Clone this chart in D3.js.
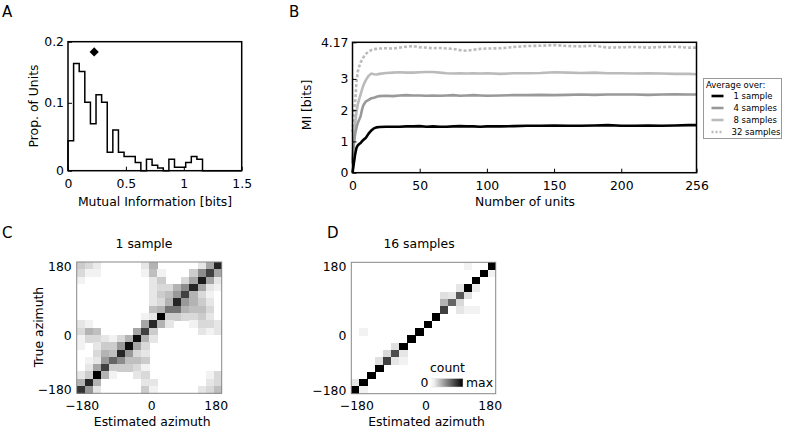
<!DOCTYPE html>
<html><head><meta charset="utf-8">
<script src="https://cdn.jsdelivr.net/npm/d3@7"></script>
<style>
html,body{margin:0;padding:0;background:#fff;}
text{font-family:"DejaVu Sans",sans-serif;fill:#000;}
</style></head>
<body>
<svg id="fig" width="786" height="430"></svg>
<script>
// ---------- Panel A data ----------
const histBinWidth = 0.0484;
const histValues = [0.044,0.158,0.146,0.101,0.069,0.112,0.101,0.027,0.060,0.027,0.021,0.021,0.012,0,0.017,0.008,0.004,0,0.017,0.005,0.005,0.012,0.021,0.017];
const histXTicks = [0,0.5,1,1.5];
const histYTicks = [0,0.1,0.19];
const histYTickLabels = ["0","0.1","0.2"];
const meanMI = [0.226, 0.175];

// ---------- Panel B data ----------
const units = [0,1,2,3,4,5,6,7,8,9,10,12,14,16,18,20,25,30,35,40,45,50,55,60,65,70,75,80,85,90,95,100,110,120,130,140,150,160,170,180,190,200,210,220,230,240,250,256];
const mi1  = [0,0.3,0.6,0.8,0.88,0.92,0.95,1.0,1.05,1.08,1.12,1.25,1.35,1.42,1.45,1.46,1.47,1.47,1.47,1.48,1.48,1.49,1.47,1.48,1.47,1.47,1.48,1.49,1.48,1.48,1.47,1.48,1.48,1.49,1.5,1.5,1.51,1.5,1.5,1.51,1.52,1.5,1.5,1.51,1.5,1.51,1.52,1.52];
const mi4  = [0.3,0.9,1.25,1.45,1.6,1.7,1.8,2.0,2.15,2.22,2.28,2.33,2.38,2.4,2.43,2.45,2.46,2.45,2.47,2.48,2.47,2.47,2.46,2.47,2.46,2.47,2.48,2.46,2.47,2.48,2.47,2.46,2.47,2.48,2.48,2.49,2.48,2.49,2.5,2.49,2.5,2.5,2.5,2.49,2.5,2.51,2.5,2.5];
const mi8  = [0.4,1.1,1.6,1.95,2.2,2.35,2.5,2.65,2.78,2.88,2.97,3.1,3.17,3.15,3.14,3.16,3.19,3.2,3.21,3.2,3.2,3.21,3.22,3.22,3.2,3.18,3.17,3.18,3.17,3.18,3.17,3.18,3.16,3.18,3.18,3.19,3.21,3.2,3.19,3.2,3.18,3.18,3.17,3.18,3.17,3.16,3.16,3.15];
const mi32 = [1.3,1.8,2.3,2.9,3.25,3.4,3.52,3.6,3.68,3.75,3.8,3.88,3.92,3.95,3.96,3.97,3.98,3.97,4.0,4.03,4.05,4.01,4.0,3.98,3.99,3.97,3.96,3.92,3.9,3.93,3.96,3.97,3.98,4.02,4.05,4.06,4.08,4.05,4.04,4.06,4.0,4.01,4.02,4.0,4.02,4.03,4.0,4.0];
const miXTicks = [0,50,100,150,200,256];
const miYTicks = [0,1,2,3,4.17];
const legendLabels = ["1 sample","4 samples","8 samples","32 samples"];

// ---------- Panels C, D data (rows: true 180 -> -180, cols: estimated -180 -> 180) ----------
const conf1 = [
 [0.2,0.15,0.08,0,0,0,0,0,0.1,0.3,0,0,0,0,0,0.1,0.35,0.85],
 [0.15,0.05,0.05,0,0,0,0,0,0.05,0.25,0.05,0,0,0,0.2,0.45,0.75,0.35],
 [0.05,0,0,0,0,0,0,0,0,0.1,0.2,0,0,0.15,0.35,0.9,0.35,0.1],
 [0,0,0,0,0,0,0,0,0,0.1,0.15,0.15,0.3,0.45,0.85,0.35,0.1,0.05],
 [0,0,0,0,0,0,0,0,0,0.1,0.2,0.25,0.4,0.75,0.3,0.15,0.05,0],
 [0,0,0,0,0,0,0,0,0,0.1,0.15,0.3,0.85,0.4,0.3,0.2,0.1,0],
 [0,0,0,0,0,0,0,0,0,0.25,0.3,0.55,0.55,0.3,0.25,0.25,0.15,0],
 [0,0,0,0,0,0,0,0,0.05,0.1,1.0,0.2,0.2,0.15,0.15,0.2,0.1,0],
 [0.1,0.05,0,0,0,0,0,0,0.35,0.85,0.3,0.1,0,0,0.05,0.15,0.15,0.1],
 [0.15,0.3,0.25,0,0,0,0,0.35,0.75,0.2,0,0,0,0,0,0.1,0.05,0.1],
 [0.05,0.15,0.15,0.1,0.05,0.15,0.3,0.95,0.3,0.1,0,0,0,0,0,0,0,0],
 [0.05,0,0.1,0.2,0.2,0.4,0.95,0.35,0.15,0,0,0,0,0,0,0,0,0],
 [0,0,0.15,0.3,0.25,0.85,0.4,0.15,0.1,0,0,0,0,0,0,0,0,0],
 [0,0.05,0.1,0.4,0.6,0.45,0.25,0.25,0.2,0,0,0,0,0,0,0,0,0],
 [0,0.1,0.35,0.75,0.2,0.2,0.2,0.15,0.05,0,0,0,0,0,0,0,0,0],
 [0.1,0.2,1.0,0.3,0.05,0,0,0.1,0.15,0,0,0,0,0,0,0,0.05,0.15],
 [0.3,0.85,0.3,0,0,0,0,0,0.1,0.1,0,0,0,0,0,0,0.1,0.15],
 [0.8,0.4,0.1,0,0,0,0,0,0.2,0.05,0,0,0,0,0,0.1,0.15,0.25]
];
const conf16 = [
 [0,0,0,0,0,0,0,0,0,0,0,0,0,0,0.05,0,0,1],
 [0,0,0,0,0,0,0,0,0,0,0,0,0,0,0,0,1,0.05],
 [0,0,0,0,0,0,0,0,0,0,0,0,0,0,0,1,0,0],
 [0,0,0,0,0,0,0,0,0,0,0,0,0,0.1,1,0.08,0,0],
 [0,0,0,0,0,0,0,0,0,0,0,0.12,0.1,0.65,0.12,0,0,0],
 [0,0,0,0,0,0,0,0,0,0,0,0.3,0.6,0.15,0,0,0,0],
 [0,0,0,0,0,0,0,0,0,0,0,0.75,0,0.1,0.05,0.05,0,0],
 [0,0,0,0,0,0,0,0,0,0,1,0,0,0,0,0,0,0],
 [0,0,0,0,0,0,0,0,0,1,0,0,0,0,0,0,0,0],
 [0,0.05,0,0,0,0,0,0,1,0,0,0,0,0,0,0,0,0],
 [0,0,0,0,0,0,0,1,0,0,0,0,0,0,0,0,0,0],
 [0,0,0,0,0,0.12,1,0,0,0,0,0,0,0,0,0,0,0],
 [0,0,0,0,0.15,0.7,0.1,0,0,0,0,0,0,0,0,0,0,0],
 [0,0,0,0.12,0.75,0.1,0.05,0,0,0,0,0,0,0,0,0,0,0],
 [0,0,0,1,0,0,0,0,0,0,0,0,0,0,0,0,0,0],
 [0,0,1,0,0,0,0,0,0,0,0,0,0,0,0,0,0,0],
 [0.1,1,0,0,0,0,0,0,0,0,0,0,0,0,0,0,0,0],
 [1,0.05,0,0,0,0,0,0,0,0,0,0,0,0,0,0,0,0]
];
const azTicks = [-180,0,180];

// =====================================================
const svg = d3.select("#fig");
const FS = 12.4;

function panelLetter(t,x,y){
  svg.append("text").attr("x",x).attr("y",y).attr("font-size",15).text(t);
}
function inwardAxes(g, xs, ys, xt, yt, ylab, xlab){
  const xa = d3.axisBottom(xs).tickValues(xt).tickSize(-4).tickPadding(9).tickFormat(xlab||(d=>d));
  const ya = d3.axisLeft(ys).tickValues(yt).tickSize(-4).tickPadding(4).tickFormat(ylab||(d=>d));
  const gx = g.append("g").attr("transform",`translate(0,${ys.range()[0]})`).call(xa);
  const gy = g.append("g").attr("transform",`translate(${xs.range()[0]},0)`).call(ya);
  [gx,gy].forEach(a=>{a.select(".domain").remove();
    a.selectAll("text").attr("font-size",FS).attr("font-family","DejaVu Sans");
    a.selectAll("line").attr("stroke","#000");});
}

// ---------------- Panel A ----------------
panelLetter("A",2,17);
{
  const g = svg.append("g");
  const x = d3.scaleLinear().domain([0,1.5]).range([68,241.7]);
  const y = d3.scaleLinear().domain([0,0.19]).range([170.7,41.7]);
  const pts = [[0,0]];
  histValues.forEach((v,i)=>pts.push([i*histBinWidth,v]));
  pts.push([histValues.length*histBinWidth,0]);
  pts.push([1.5,0]);
  const step = d3.line().x(d=>x(d[0])).y(d=>y(d[1])).curve(d3.curveStepAfter);
  g.append("path").attr("d",step(pts)).attr("fill","none").attr("stroke","#000").attr("stroke-width",1.5);
  inwardAxes(g,x,y,histXTicks,histYTicks,(d,i)=>histYTickLabels[i]);
  g.append("rect").attr("x",x.range()[0]).attr("y",y.range()[1])
    .attr("width",x.range()[1]-x.range()[0]).attr("height",y.range()[0]-y.range()[1])
    .attr("fill","none").attr("stroke","#000").attr("stroke-width",1.5);
  g.append("path").attr("d",d3.symbol(d3.symbolSquare,42)())
    .attr("transform",`translate(${x(meanMI[0])},${y(meanMI[1])}) rotate(45)`).attr("fill","#000");
  g.append("text").attr("x",155).attr("y",206).attr("text-anchor","middle").attr("font-size",FS).text("Mutual Information [bits]");
  g.append("text").attr("transform","translate(38,106) rotate(-90)").attr("text-anchor","middle").attr("font-size",FS).text("Prop. of Units");
}

// ---------------- Panel B ----------------
panelLetter("B",289,17);
{
  const g = svg.append("g");
  const x = d3.scaleLinear().domain([0,256]).range([352.5,696.5]);
  const y = d3.scaleLinear().domain([0,4.17]).range([172.7,42.3]);
  const series = [
    {v:mi1, c:"#000", dash:null},
    {v:mi4, c:"#999", dash:null},
    {v:mi8, c:"#bbb", dash:null},
    {v:mi32,c:"#bbb", dash:"3,2"}
  ];
  const ln = d3.line().x((d,i)=>x(units[i])).y(d=>y(d));
  series.slice().reverse().forEach(s=>{
    g.append("path").attr("d",ln(s.v)).attr("fill","none").attr("stroke",s.c)
      .attr("stroke-width",2.6).attr("stroke-dasharray",s.dash);
  });
  inwardAxes(g,x,y,miXTicks,miYTicks);
  g.append("rect").attr("x",x.range()[0]).attr("y",y.range()[1])
    .attr("width",x.range()[1]-x.range()[0]).attr("height",y.range()[0]-y.range()[1])
    .attr("fill","none").attr("stroke","#000").attr("stroke-width",1.5);
  g.append("text").attr("x",525).attr("y",206).attr("text-anchor","middle").attr("font-size",FS).text("Number of units");
  g.append("text").attr("transform","translate(311,105) rotate(-90)").attr("text-anchor","middle").attr("font-size",FS).text("MI [bits]");
  // legend
  const lg = svg.append("g");
  lg.append("rect").attr("x",703.5).attr("y",78.5).attr("width",78).attr("height",60)
    .attr("fill","#fff").attr("stroke","#999").attr("stroke-width",1);
  lg.append("text").attr("x",706).attr("y",88).attr("font-size",8.5).text("Average over:");
  series.forEach((s,i)=>{
    const yy = 96 + i*12;
    lg.append("line").attr("x1",711.5).attr("x2",723.5).attr("y1",yy).attr("y2",yy)
      .attr("stroke",s.c).attr("stroke-width",2.6).attr("stroke-dasharray",s.dash?"2,2":null);
    lg.append("text").attr("x",i===3?731.5:733.5).attr("y",yy+3).attr("font-size",8.5).text(legendLabels[i]);
  });
}

// ---------------- Panels C, D ----------------
const gray = d3.scaleLinear().domain([0,1]).range(["#ffffff","#000000"]);
function heat(mat, box, title, titleX, showY){
  const g = svg.append("g");
  const cols = d3.scaleBand().domain(d3.range(18)).range([box.x0,box.x1]);
  const rows = d3.scaleBand().domain(d3.range(18)).range([box.y0,box.y1]);
  mat.forEach((row,r)=>row.forEach((v,c)=>{
    if(v>0) g.append("rect").attr("x",cols(c)).attr("y",rows(r))
      .attr("width",cols.bandwidth()+0.3).attr("height",rows.bandwidth()+0.3)
      .attr("fill",gray(v)).attr("shape-rendering","crispEdges");
  }));
  g.append("rect").attr("x",box.x0).attr("y",box.y0).attr("width",box.x1-box.x0).attr("height",box.y1-box.y0)
    .attr("fill","none").attr("stroke","#888").attr("stroke-width",1);
  const mx = (box.x0+box.x1)/2, my=(box.y0+box.y1)/2;
  const tx = d3.scaleLinear().domain(azTicks).range([box.x0+5, mx+2, box.x1-6]);
  const ty = d3.scaleLinear().domain(azTicks).range([box.y1-3.5, my+8, box.y0+4.5]);
  const xa = d3.axisBottom(tx).tickValues(azTicks).tickSize(0).tickPadding(8);
  const ya = d3.axisLeft(ty).tickValues(azTicks).tickSize(0).tickPadding(5);
  const gx = g.append("g").attr("transform",`translate(0,${box.y1})`).call(xa);
  const gy = g.append("g").attr("transform",`translate(${box.x0},0)`).call(ya);
  [gx,gy].forEach(a=>{a.select(".domain").remove();a.selectAll("text").attr("font-size",FS).attr("font-family","DejaVu Sans");});
  g.append("text").attr("x",titleX).attr("y",248).attr("text-anchor","middle").attr("font-size",FS).text(title);
  g.append("text").attr("x",(box.x0+box.x1)/2+3).attr("y",426).attr("text-anchor","middle").attr("font-size",FS).text("Estimated azimuth");
  if(showY) g.append("text").attr("transform",`translate(43,327) rotate(-90)`).attr("text-anchor","middle").attr("font-size",FS).text("True azimuth");
}
panelLetter("C",2,238);
heat(conf1,{x0:76.7,x1:221.7,y0:262,y1:393.3},"1 sample",144,true);
panelLetter("D",327,238);
heat(conf16,{x0:351.3,x1:495.7,y0:262.3,y1:393.7},"16 samples",419,false);

// colorbar
{
  const defs = svg.append("defs");
  const grad = defs.append("linearGradient").attr("id","cb");
  [0,1].forEach(t=>grad.append("stop").attr("offset",t).attr("stop-color",gray(t)));
  svg.append("rect").attr("x",432).attr("y",378.5).attr("width",31).attr("height",8.5)
    .attr("fill","url(#cb)").attr("stroke","#ddd").attr("stroke-width",0.5);
  svg.append("text").attr("x",424.5).attr("y",387).attr("text-anchor","middle").attr("font-size",FS).text("0");
  svg.append("text").attr("x",466).attr("y",387).attr("font-size",FS).text("max");
  svg.append("text").attr("x",447.5).attr("y",372).attr("text-anchor","middle").attr("font-size",FS).text("count");
}
</script>
</body></html>
